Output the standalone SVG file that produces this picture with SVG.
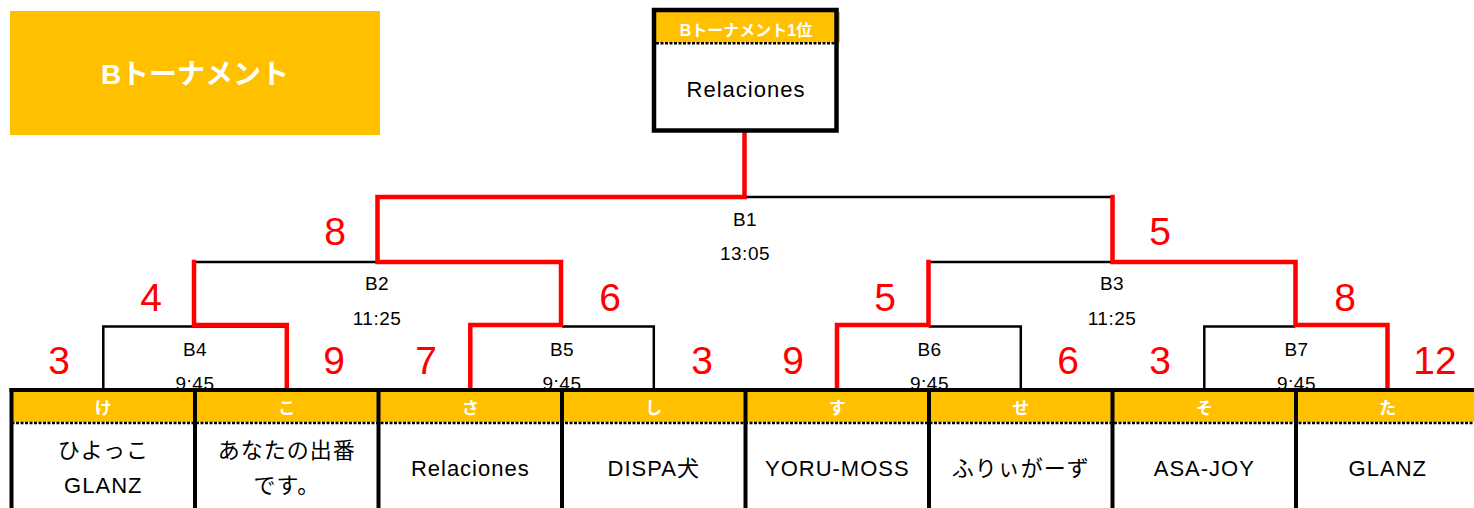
<svg xmlns="http://www.w3.org/2000/svg" width="1474" height="508" viewBox="0 0 1474 508">
<style>
text{font-family:"Liberation Sans","Noto Sans CJK JP",sans-serif;text-anchor:middle}
.title{fill:#fff;font-size:28px;font-weight:bold}
.hdr{fill:#fff;font-size:16px;font-weight:bold}
.thdr{fill:#fff;font-size:17px;font-weight:bold}
.name{fill:#000;font-size:22px;letter-spacing:1px}
.lbl{fill:#000;font-size:19px;letter-spacing:0.5px}
.score{fill:#f00;font-size:39px}
.blk{fill:none;stroke:#000;stroke-width:2.5}
.red{fill:none;stroke:#f00;stroke-width:4.5;stroke-linejoin:miter;stroke-linecap:square}
.band{fill:#FFC000}
.dots{stroke:#000;stroke-width:2.5;stroke-dasharray:3 1.5}
.border{stroke:#000;stroke-width:4}
</style>

<g id="title">
<rect x="10" y="11" width="370" height="124" fill="#FFC000"/>
<text class="title" x="195" y="84">Bトーナメント</text>
</g>

<g id="connectors">
<path class="blk" d="M103.3 390V326.5H286.8"/>
<path class="blk" d="M562 326.5H653.8V390"/>
<path class="blk" d="M928.5 326.5H1020.8V390"/>
<path class="blk" d="M1204.3 390V326.5H1295.5"/>
<path class="blk" d="M194 262H377.5"/>
<path class="blk" d="M928.5 262H1112.5"/>
<path class="blk" d="M745 197H1112.5"/>
<path class="red" d="M286.8 390V325H194V262"/>
<path class="red" d="M470.3 390V325H561V262H377.5V197H744.5V134"/>
<path class="red" d="M837 390V325H928.5V262"/>
<path class="red" d="M1387.5 390V325H1295.5V262H1112.5V197"/>
</g>

<g id="match-B1"><text class="lbl" x="745" y="226">B1</text><text class="lbl" x="745" y="260">13:05</text></g>
<g id="match-B2"><text class="lbl" x="377" y="290">B2</text><text class="lbl" x="377" y="325">11:25</text></g>
<g id="match-B3"><text class="lbl" x="1112" y="290">B3</text><text class="lbl" x="1112" y="325">11:25</text></g>
<g id="match-B4"><text class="lbl" x="195" y="356">B4</text><text class="lbl" x="195" y="390">9:45</text></g>
<g id="match-B5"><text class="lbl" x="562" y="356">B5</text><text class="lbl" x="562" y="390">9:45</text></g>
<g id="match-B6"><text class="lbl" x="929.5" y="356">B6</text><text class="lbl" x="929.5" y="390">9:45</text></g>
<g id="match-B7"><text class="lbl" x="1296.5" y="356">B7</text><text class="lbl" x="1296.5" y="390">9:45</text></g>

<g id="winner">
<rect x="654" y="10" width="182.5" height="120.5" fill="#fff"/>
<rect x="656" y="12" width="184" height="30.5" fill="#FFC000"/>
<line class="dots" x1="656" y1="43.2" x2="838" y2="43.2"/>
<rect x="654" y="10" width="182.5" height="120.5" fill="none" stroke="#000" stroke-width="4.5"/>
<text class="hdr" x="746" y="35.5">Bトーナメント1位</text>
<text class="name" x="746" y="96.5">Relaciones</text>
</g>

<g id="table">
<rect class="band" x="11.5" y="390" width="1462.5" height="32"/>
<rect x="11.5" y="424.5" width="1462.5" height="84" fill="#fff"/>
<line class="dots" x1="11.5" y1="423" x2="1474" y2="423"/>
</g>

<g id="team-ke"><text class="thdr" x="103.3" y="414">け</text><text class="name" x="103.3" y="458">ひよっこ</text><text class="name" x="103.3" y="493">GLANZ</text></g>
<g id="team-ko"><text class="thdr" x="286.8" y="414">こ</text><text class="name" x="286.8" y="458">あなたの出番</text><text class="name" x="286.8" y="493">です。</text></g>
<g id="team-sa"><text class="thdr" x="470.3" y="414">さ</text><text class="name" x="470.3" y="476">Relaciones</text></g>
<g id="team-shi"><text class="thdr" x="653.8" y="414">し</text><text class="name" x="653.8" y="476">DISPA犬</text></g>
<g id="team-su"><text class="thdr" x="837.3" y="414">す</text><text class="name" x="837.3" y="476">YORU-MOSS</text></g>
<g id="team-se"><text class="thdr" x="1020.8" y="414">せ</text><text class="name" x="1020.8" y="476">ふりぃがーず</text></g>
<g id="team-so"><text class="thdr" x="1204.3" y="414">そ</text><text class="name" x="1204.3" y="476">ASA-JOY</text></g>
<g id="team-ta"><text class="thdr" x="1387.8" y="414">た</text><text class="name" x="1387.8" y="476">GLANZ</text></g>

<g id="grid">
<line class="border" x1="9.5" y1="390" x2="1474" y2="390"/>
<line class="border" x1="11.5" y1="388" x2="11.5" y2="508"/>
<line class="border" x1="195" y1="388" x2="195" y2="508"/>
<line class="border" x1="378.5" y1="388" x2="378.5" y2="508"/>
<line class="border" x1="562" y1="388" x2="562" y2="508"/>
<line class="border" x1="745.5" y1="388" x2="745.5" y2="508"/>
<line class="border" x1="929" y1="388" x2="929" y2="508"/>
<line class="border" x1="1112.5" y1="388" x2="1112.5" y2="508"/>
<line class="border" x1="1296" y1="388" x2="1296" y2="508"/>
</g>

<g id="scores">
<text class="score" x="335" y="245">8</text>
<text class="score" x="1160" y="245">5</text>
<text class="score" x="151" y="310.5">4</text>
<text class="score" x="610" y="310.5">6</text>
<text class="score" x="885" y="310.5">5</text>
<text class="score" x="1345" y="310.5">8</text>
<text class="score" x="59" y="373.5">3</text>
<text class="score" x="334" y="373.5">9</text>
<text class="score" x="426" y="373.5">7</text>
<text class="score" x="702" y="373.5">3</text>
<text class="score" x="793" y="373.5">9</text>
<text class="score" x="1068" y="373.5">6</text>
<text class="score" x="1160" y="373.5">3</text>
<text class="score" x="1435" y="373.5">12</text>
</g>
</svg>
